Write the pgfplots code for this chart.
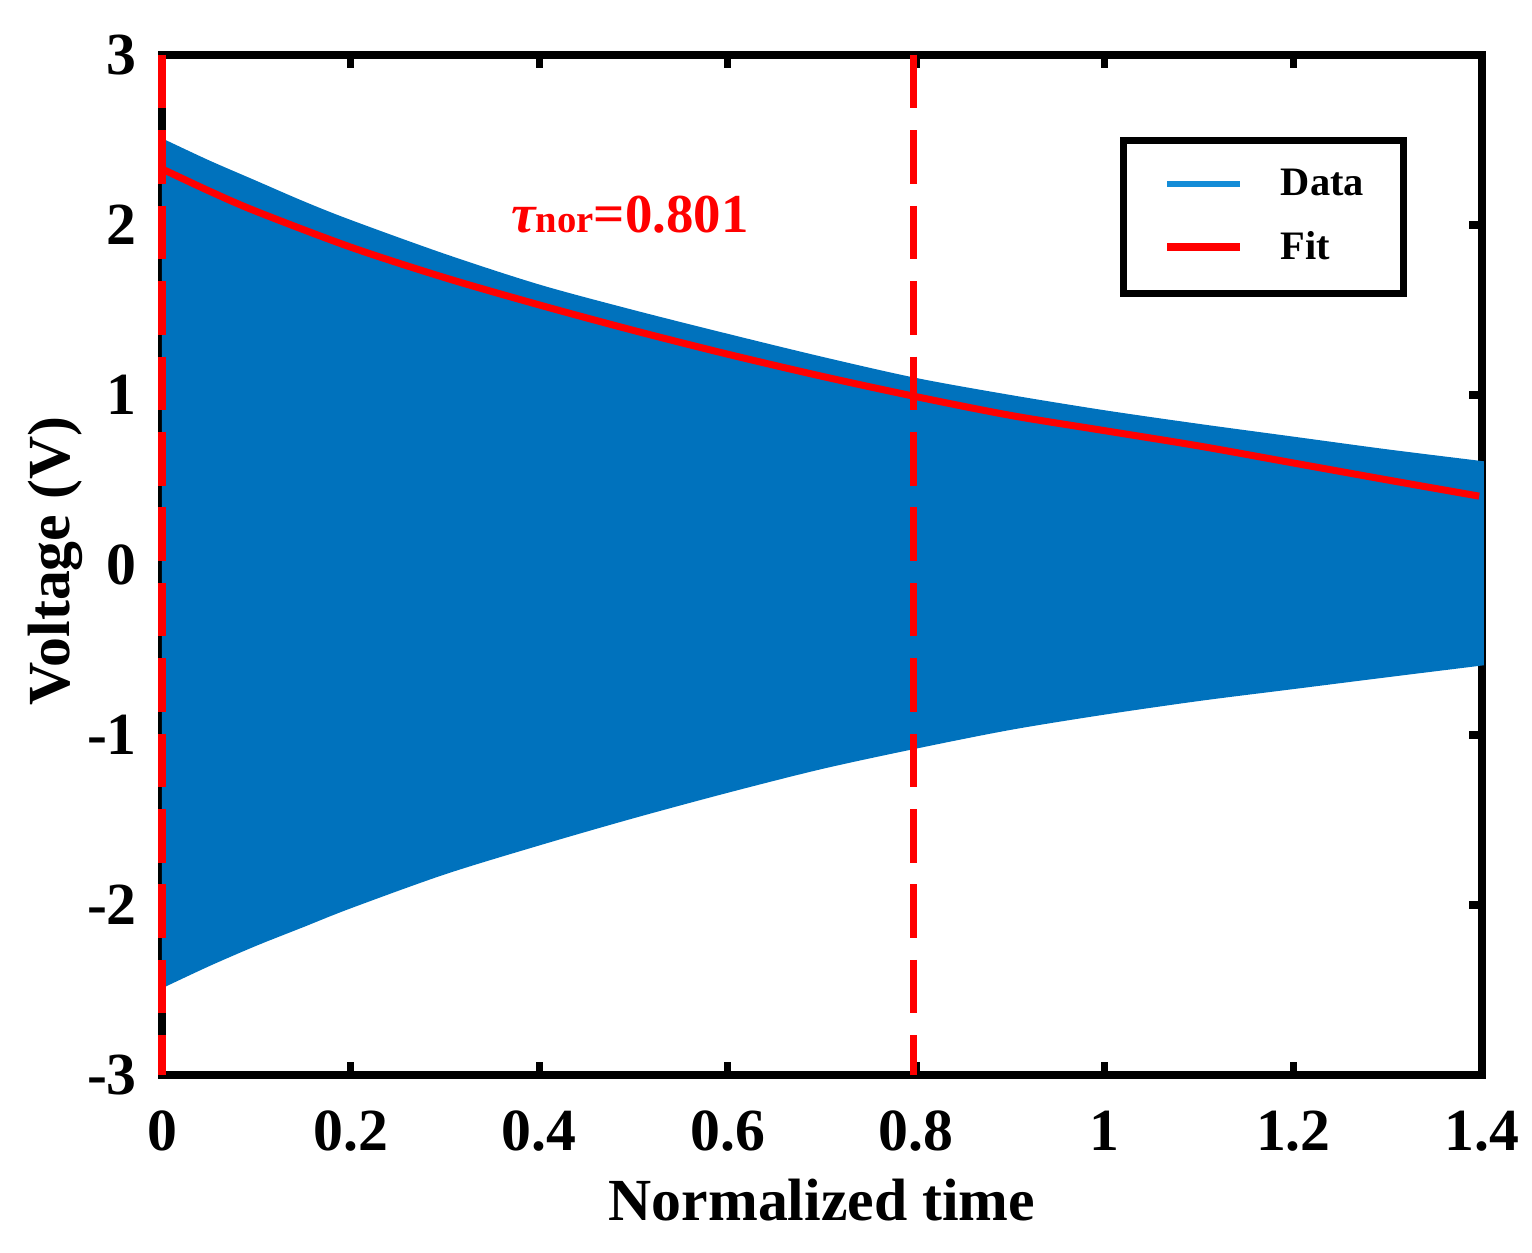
\documentclass[border=0pt]{standalone}
\usepackage{pgfplots}
\pgfplotsset{compat=1.18}
\usepgfplotslibrary{fillbetween}
\usepackage{fontspec}
\setmainfont{Liberation Serif}
\definecolor{mblue}{RGB}{0,114,189}
\definecolor{lblue}{RGB}{20,140,215}
\definecolor{mred}{RGB}{255,0,0}
\begin{document}
\begin{tikzpicture}
\begin{axis}[
  at={(0,0)}, anchor=south west,
  scale only axis, width=132mm, height=102mm,
  xmin=0, xmax=1.4, ymin=-3, ymax=3,
  clip=false,
  axis line style={line width=2pt},
  every tick/.style={black, line width=2pt},
  major tick length=1.3mm,
  tick align=inside,
  xtick={0,0.2,0.4,0.6,0.8,1,1.2,1.4},
  xticklabels={0,0.2,0.4,0.6,0.8,1,1.2,1.4},
  ytick={-3,-2,-1,0,1,2,3},
  yticklabels={-3,-2,-1,0,1,2,3},
  tick label style={font=\fontsize{17}{20}\selectfont\bfseries, inner sep=0pt},
  xticklabel shift=3.5mm, yticklabel shift=2.45mm,
  xlabel={Normalized time}, ylabel={Voltage (V)},
  label style={font=\fontsize{17}{20}\selectfont\bfseries},
  xlabel style={at={(axis description cs:0.5,-0.1422)}, anchor=base},
  ylabel style={at={(axis description cs:-0.0697,0.504)}, anchor=base},
  legend image code/.code={\draw[#1] (0mm,0.1mm) -- (7.3mm,0.1mm);},
  legend cell align=left,
  legend style={at={(0.9435,0.920)}, anchor=north east, draw=black, line width=2pt, fill=white,
    inner xsep=4.0mm, inner ysep=2.9mm, row sep=3.05mm,
    font=\fontsize{11.5}{13}\selectfont\bfseries, nodes={inner sep=0pt},
    /tikz/every odd column/.append style={column sep=3.7mm}},
]
\addplot[name path=U, draw=none, smooth, forget plot] coordinates {
(0,2.51) (0.05,2.38) (0.1,2.26) (0.15,2.14) (0.2,2.03) (0.3,1.83) (0.4,1.65) (0.5,1.50) (0.6,1.36) (0.7,1.225) (0.8,1.10) (0.9,1.00) (1.0,0.91) (1.1,0.83) (1.2,0.755) (1.3,0.68) (1.402,0.61)
};
\addplot[name path=L, draw=none, smooth, forget plot] coordinates {
(0,-2.49) (0.05,-2.36) (0.1,-2.24) (0.15,-2.13) (0.2,-2.02) (0.3,-1.82) (0.4,-1.65) (0.5,-1.49) (0.6,-1.34) (0.7,-1.20) (0.8,-1.08) (0.9,-0.97) (1.0,-0.88) (1.1,-0.80) (1.2,-0.73) (1.3,-0.66) (1.402,-0.59)
};
\addplot[mblue, forget plot] fill between[of=U and L];
\addlegendimage{lblue, line width=1.5pt}
\addlegendentry{Data}
\addplot[mred, line width=2pt, smooth] coordinates {
(0,2.33) (0.05,2.20) (0.1,2.08) (0.2,1.87) (0.3,1.69) (0.4,1.53) (0.5,1.38) (0.6,1.24) (0.7,1.11) (0.8,0.99) (0.9,0.88) (1.0,0.79) (1.1,0.70) (1.2,0.60) (1.3,0.50) (1.397,0.405)
};
\addlegendentry{Fit}
\addplot[mred, line width=2.2pt, dash pattern=on 5.35mm off 2.19mm, forget plot] coordinates {(0,3) (0,-3)};
\addplot[mred, line width=2.2pt, dash pattern=on 5.35mm off 2.19mm, forget plot] coordinates {(0.797,3) (0.797,-3)};
\node[anchor=base west, inner sep=0pt, text=mred, font=\fontsize{15.6}{17}\selectfont\bfseries] at (axis cs:0.370,1.955)
  {{\itshape τ}{\fontsize{11}{12}\selectfont nor}=0.801};
\end{axis}
\pgfresetboundingbox
\path[use as bounding box] (-16.2mm,-17.8mm) rectangle (137mm,107.5mm);
\end{tikzpicture}
\end{document}
